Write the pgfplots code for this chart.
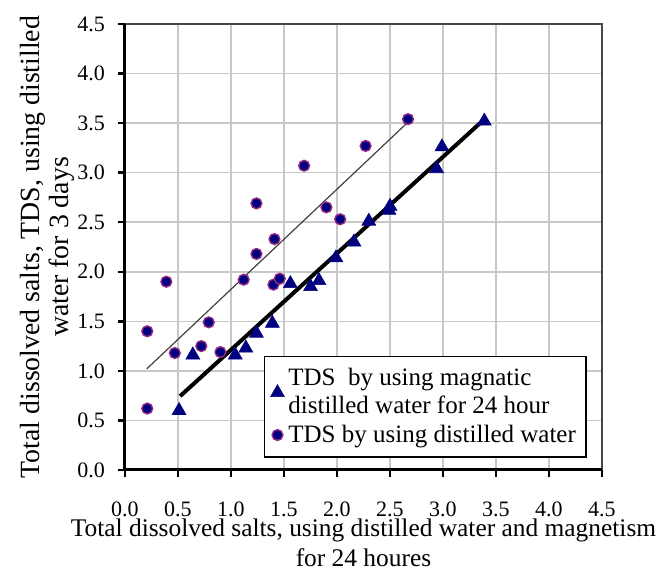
\documentclass[border=0pt]{standalone}
\usepackage{fontspec}
\setmainfont{Liberation Serif}
\usepackage{pgfplots}
\pgfplotsset{compat=1.18}

\definecolor{navyfill}{RGB}{0,0,128}
\definecolor{circedge}{RGB}{150,40,130}
\definecolor{gridgray}{RGB}{200,200,200}
\definecolor{framegray}{RGB}{70,70,70}

\begin{document}
\begin{tikzpicture}
% grid and top/right frame as thin filled strips (axis box: 238.5pt x 223pt at the origin)
\foreach \i in {1,...,8} {
  \fill[gridgray] (\i*26.5pt-0.375pt,0) rectangle (\i*26.5pt+0.375pt,223pt);
  \fill[gridgray] (0,\i*24.7778pt-0.375pt) rectangle (238.5pt,\i*24.7778pt+0.375pt);
}
\fill[framegray] (0,222.5pt) rectangle (239pt,223.5pt);
\fill[framegray] (238pt,0) rectangle (239pt,223.5pt);
\begin{axis}[
  name=ax,
  at={(0,0)}, anchor=south west,
  scale only axis,
  width=238.5pt, height=223pt,
  xmin=0, xmax=4.5, ymin=0, ymax=4.5,
  xtick={0,0.5,...,4.5}, ytick={0,0.5,...,4.5},
  xtick pos=left, ytick pos=left,
  tick align=outside,
  major tick length=3.5pt,
  axis line style={draw=none},
  major tick style={draw=none},
  /pgf/number format/fixed,
  /pgf/number format/fixed zerofill,
  /pgf/number format/precision=1,
  /pgf/number format/assume math mode=true,
  tick label style={font=\fontsize{11}{13}\selectfont},
  xticklabel style={yshift=-9pt},
  yticklabel style={xshift=-3pt},
  xlabel={Total dissolved salts, using distilled water and magnetism\\for 24 houres},
  xlabel style={font=\fontsize{12.7}{15}\selectfont, align=center,
    at={(axis description cs:0.5,-0.108)}, anchor=north, inner sep=0pt},
  ylabel={Total dissolved salts, TDS, using distilled\\water for 3 days},
  ylabel style={font=\fontsize{13.9}{14.5}\selectfont, align=center,
    at={(axis description cs:-0.106,0.5)}, anchor=south, inner sep=0pt},
  legend cell align=left,
  legend style={
    at={(axis description cs:0.291,0.027)}, anchor=south west,
    draw=black, line width=0.75pt, fill=white,
    font=\fontsize{12.5}{14}\selectfont,
    nodes={align=left},
    row sep=0pt, inner xsep=3pt, inner ysep=4pt,
  },
]
\addplot[only marks, mark=triangle*, mark size=4pt,
  mark options={fill=navyfill, draw=navyfill, line width=0.3pt}]
  coordinates {
  (0.51,0.60) (0.64,1.16) (1.04,1.16) (1.14,1.23) (1.24,1.38) (1.39,1.48)
  (1.56,1.88) (1.75,1.85) (1.83,1.91) (1.99,2.14) (2.16,2.30) (2.30,2.51)
  (2.49,2.62) (2.50,2.66) (2.94,3.04) (2.99,3.26) (3.39,3.52)
};
\addlegendentry{TDS\ \ by using magnatic\\distilled water for 24 hour}
\addplot[only marks, mark=*, mark size=2.7pt,
  mark options={fill=navyfill, draw=circedge, line width=0.7pt}]
  coordinates {
  (0.21,0.62) (0.21,1.40) (0.39,1.90) (0.47,1.18) (0.72,1.25) (0.79,1.49)
  (0.90,1.19) (1.12,1.92) (1.24,2.18) (1.24,2.69) (1.40,1.87) (1.41,2.33)
  (1.46,1.93) (1.69,3.07) (1.90,2.65) (2.03,2.53) (2.27,3.27) (2.67,3.54)
};
\addlegendentry{TDS by using distilled water}
% trend lines
\addplot[forget plot, black, line width=2pt] coordinates {(0.52,0.745) (3.36,3.51)};
\addplot[forget plot, black!75, line width=0.6pt] coordinates {(0.205,1.02) (2.66,3.50)};
\end{axis}
% thick left and bottom axes, outward ticks
\draw[black, line width=1.5pt] (ax.north west) -- (ax.south west) -- (ax.south east);
\foreach \i in {0,...,9} {
  \fill[black] (\i*26.5pt-0.6pt,0) rectangle (\i*26.5pt+0.6pt,-3.5pt);
  \fill[black] (0,\i*24.7778pt-0.6pt) rectangle (-3.5pt,\i*24.7778pt+0.6pt);
}
\path ([shift={(-62.5pt,-51.5pt)}]ax.south west) rectangle ([shift={(267.5pt,235pt)}]ax.south west);
\end{tikzpicture}
\end{document}
